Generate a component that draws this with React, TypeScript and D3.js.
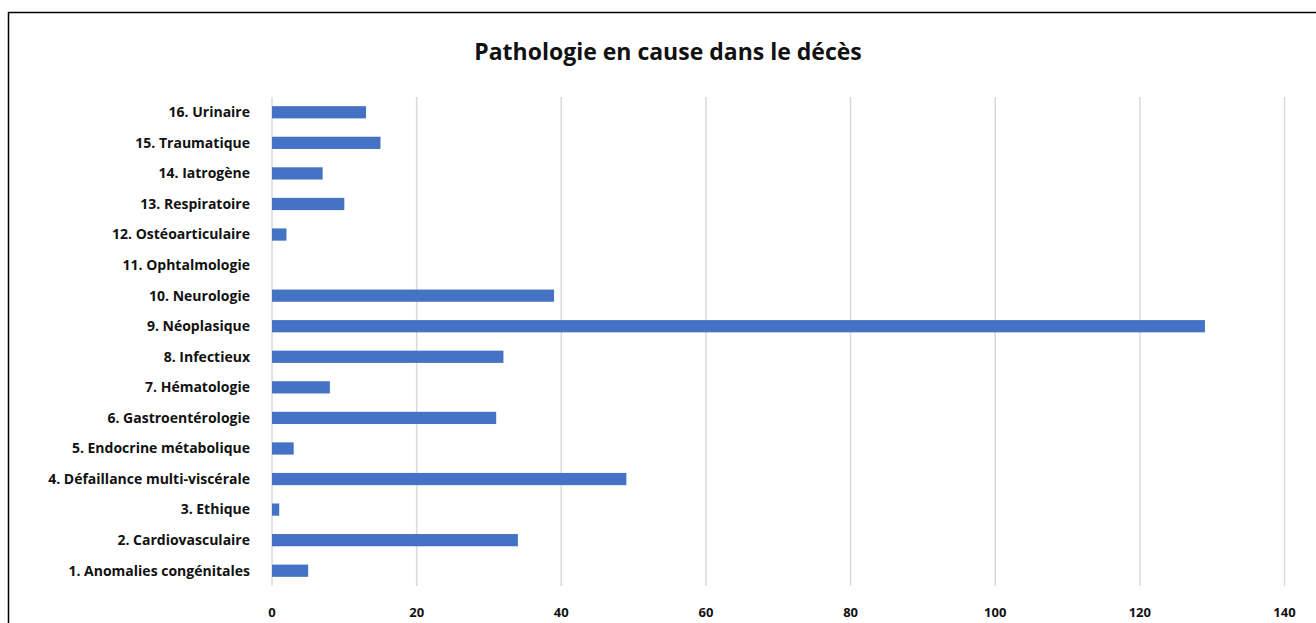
import React from "react";
import * as d3 from "d3";

const categories = [
  "1. Anomalies congénitales",
  "2. Cardiovasculaire",
  "3. Ethique",
  "4. Défaillance multi-viscérale",
  "5. Endocrine métabolique",
  "6. Gastroentérologie",
  "7. Hématologie",
  "8. Infectieux",
  "9. Néoplasique",
  "10. Neurologie",
  "11. Ophtalmologie",
  "12. Ostéoarticulaire",
  "13. Respiratoire",
  "14. Iatrogène",
  "15. Traumatique",
  "16. Urinaire",
];
const values = [5, 34, 1, 49, 3, 31, 8, 32, 129, 39, 0, 2, 10, 7, 15, 13];
const xTicks = [0, 20, 40, 60, 80, 100, 120, 140];
const title = "Pathologie en cause dans le décès";

const W = 1316;
const H = 623;
const FONT = "'Open Sans', Lato, sans-serif";

export default function App() {
  const x = d3.scaleLinear().domain([0, 140]).range([272, 1284.5]);
  const y = d3
    .scaleBand<string>()
    .domain([...categories].reverse())
    .range([97, 586])
    .paddingInner(0.6)
    .paddingOuter(0.3);

  return (
    <svg
      width={W}
      height={H}
      style={{ position: "absolute", left: 0, top: 0, background: "#fff" }}
      fontFamily={FONT}
    >
      <rect x={10} y={14} width={W + 20} height={H + 20} fill="none" stroke="#c8c8c8" strokeWidth={2} />
      <rect x={8.5} y={12.5} width={W + 20} height={H + 20} fill="#fff" stroke="#000" strokeWidth={1.5} />
      <text
        x={668}
        y={60}
        textAnchor="middle"
        fontSize={23}
        fontWeight="bold"
        fill="#111"
      >
        {title}
      </text>
      {xTicks.map((t) => (
        <g key={t}>
          {t > 0 && (
            <line x1={x(t)} x2={x(t)} y1={97} y2={586} stroke="#d9d9d9" strokeWidth={1.5} />
          )}
          <text
            x={x(t)}
            y={617}
            textAnchor="middle"
            fontSize={13}
            fontWeight="bold"
            fill="#111"
          >
            {t}
          </text>
        </g>
      ))}
      <line x1={x(0)} x2={x(0)} y1={97} y2={586} stroke="#d9d9d9" strokeWidth={1.5} />
      {categories.map((c, i) => (
        <g key={c}>
          <rect
            x={x(0)}
            y={y(c)!}
            width={x(values[i]) - x(0)}
            height={y.bandwidth()}
            fill="#4472C4"
          />
          <text
            x={x(0) - 22}
            y={y(c)! + y.bandwidth() / 2}
            dy="0.35em"
            textAnchor="end"
            fontSize={14}
            fontWeight="bold"
            fill="#111"
          >
            {c}
          </text>
        </g>
      ))}
    </svg>
  );
}
